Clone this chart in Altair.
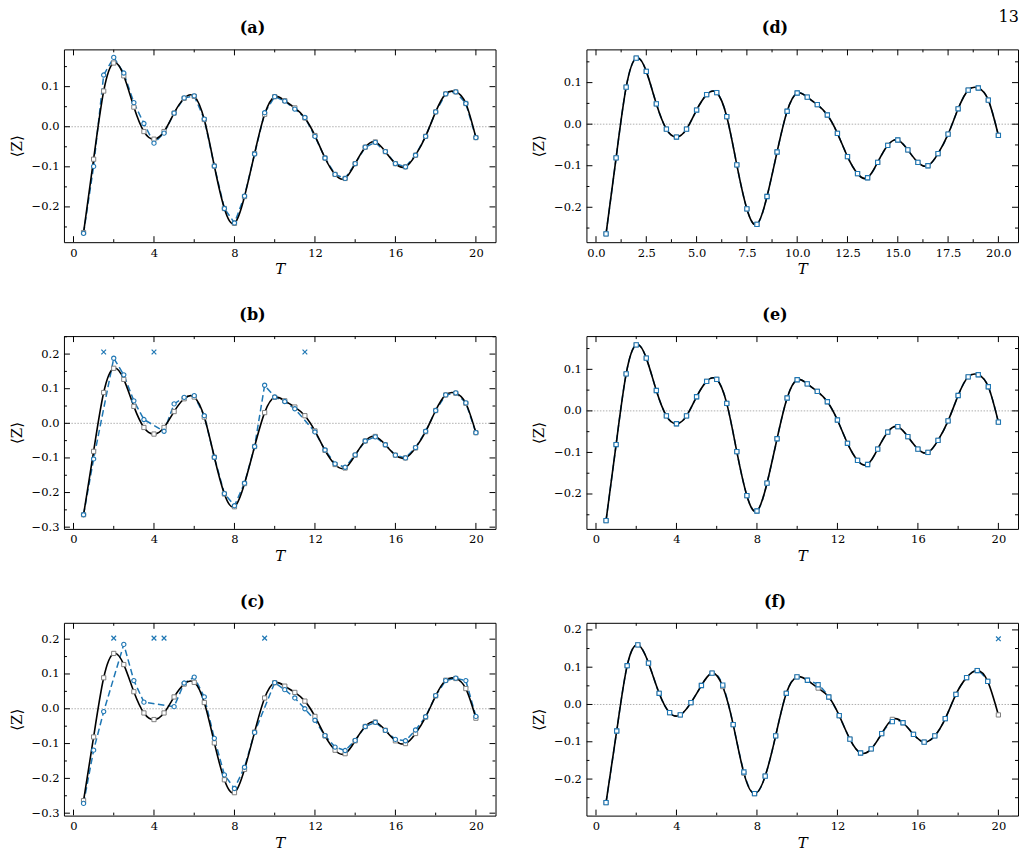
import altair as alt
import pandas as pd

# ---------------- data ----------------
T = [0.5, 1.0, 1.5, 2.0, 2.5, 3.0, 3.5, 4.0, 4.5, 5.0, 5.5, 6.0, 6.5, 7.0, 7.5, 8.0,
     8.5, 9.0, 9.5, 10.0, 10.5, 11.0, 11.5, 12.0, 12.5, 13.0, 13.5, 14.0, 14.5, 15.0,
     15.5, 16.0, 16.5, 17.0, 17.5, 18.0, 18.5, 19.0, 19.5, 20.0]

Z_EXACT = [-0.264, -0.081, 0.089, 0.159, 0.127, 0.049, -0.012, -0.031, -0.012, 0.034,
           0.071, 0.076, 0.018, -0.098, -0.204, -0.241, -0.174, -0.067, 0.031, 0.075,
           0.065, 0.047, 0.022, -0.022, -0.078, -0.119, -0.129, -0.092, -0.051, -0.038,
           -0.062, -0.092, -0.100, -0.071, -0.024, 0.037, 0.082, 0.087, 0.058, -0.027]

Z_A = [-0.266, -0.099, 0.129, 0.173, 0.134, 0.060, 0.008, -0.041, -0.016, 0.034,
       0.072, 0.077, 0.019, -0.098, -0.204, -0.240, -0.173, -0.068, 0.035, 0.075,
       0.064, 0.044, 0.023, -0.024, -0.078, -0.119, -0.129, -0.092, -0.051, -0.039,
       -0.062, -0.092, -0.100, -0.071, -0.024, 0.037, 0.082, 0.087, 0.058, -0.027]

Z_B = [-0.264, -0.103, None, 0.188, 0.140, 0.065, 0.011, None, -0.023, 0.056,
       0.075, 0.080, 0.022, -0.098, -0.203, -0.238, -0.173, -0.067, 0.110, 0.076,
       0.063, 0.042, None, -0.025, -0.077, -0.117, -0.127, -0.091, -0.051, -0.039,
       -0.062, -0.092, -0.100, -0.070, -0.023, 0.037, 0.082, 0.088, 0.059, -0.027]
OUT_B_T = [1.5, 4.0, 11.5]
OUT_B_Z = [0.206, 0.206, 0.206]

Z_C = [-0.272, -0.119, -0.008, None, 0.185, 0.081, 0.019, None, None, 0.006,
       0.074, 0.091, 0.034, -0.085, -0.190, -0.229, -0.168, -0.068, None, 0.075,
       0.055, 0.031, 0.000, -0.033, -0.077, -0.110, -0.120, -0.091, -0.051, -0.039,
       -0.062, -0.088, -0.092, -0.061, -0.023, 0.038, 0.081, 0.088, 0.081, -0.022]
OUT_C_T = [2.0, 4.0, 4.5, 9.5]
OUT_C_Z = [0.203, 0.203, 0.203, 0.203]

T_F = [0.50, 1.03, 1.55, 2.08, 2.61, 3.14, 3.66, 4.19, 4.72, 5.24, 5.77, 6.30, 6.82,
       7.35, 7.88, 8.41, 8.93, 9.46, 9.99, 10.51, 11.04, 11.57, 12.09, 12.62, 13.15,
       13.68, 14.20, 14.73, 15.26, 15.78, 16.31, 16.84, 17.36, 17.89, 18.42, 18.95,
       19.47, 20.00]
Z_F_EXACT = [-0.263, -0.071, 0.104, 0.160, 0.111, 0.030, -0.022, -0.028, 0.005, 0.051,
             0.084, 0.048, -0.054, -0.184, -0.239, -0.192, -0.084, 0.030, 0.074, 0.065,
             0.044, 0.020, -0.030, -0.093, -0.130, -0.119, -0.078, -0.040, -0.049, -0.080,
             -0.101, -0.084, -0.038, 0.027, 0.072, 0.091, 0.062, -0.028]
Z_F = [-0.263, -0.071, 0.104, 0.160, 0.111, 0.030, -0.022, -0.028, 0.005, 0.051,
       0.084, 0.052, -0.054, -0.181, -0.239, -0.192, -0.084, 0.030, 0.074, 0.065,
       0.053, 0.020, -0.030, -0.093, -0.130, -0.119, -0.078, -0.046, -0.049, -0.080,
       -0.101, -0.084, -0.038, 0.027, 0.072, 0.091, 0.062, None]
OUT_F_T = [20.0]
OUT_F_Z = [0.176]

# axis ticks / labels
X_MAJOR_4 = [0, 4, 8, 12, 16, 20]
X_MINOR_4 = [2, 6, 10, 14, 18]
X_MAJOR_25 = [0.0, 2.5, 5.0, 7.5, 10.0, 12.5, 15.0, 17.5, 20.0]
X_MINOR_25 = [1.25, 3.75, 6.25, 8.75, 11.25, 13.75, 16.25, 18.75]
Y_MAJOR = [-0.3, -0.2, -0.1, 0.0, 0.1, 0.2]
Y_MINOR = [-0.25, -0.15, -0.05, 0.05, 0.15, 0.25]
Y_LAB_2 = [-0.2, -0.1, 0.0, 0.1]
Y_LAB_3 = [-0.3, -0.2, -0.1, 0.0, 0.1, 0.2]
Y_LAB_F = [-0.2, -0.1, 0.0, 0.1, 0.2]
PAGE_NO = "13"

# ---------------- style ----------------
BLUE = "#1f77b4"
GRAY = "#7f7f7f"
FONT = "DejaVu Serif"
W, H = 432, 193
XDOM = [-0.475, 20.975]
MAJ, MIN = 6, 3
XSHAPE = "M-1,-1L1,1M-1,1L1,-1"


def panel(label, t_ex, z_ex, t_est, z_est, t_out, z_out, ydom, ylabels,
          xmajor, xminor, xfmt, blue_shape, blue_interp):
    xs = alt.Scale(domain=XDOM, nice=False, zero=False)
    ys = alt.Scale(domain=ydom, nice=False, zero=False)
    xaxis = alt.Axis(values=xmajor, format=xfmt, title="T", ticks=False, domain=False,
                     grid=False, labelPadding=5, titlePadding=3, titleFontStyle="italic",
                     labelFlush=False, labelOverlap=False)
    yaxis = alt.Axis(values=ylabels, format=".1f", title="⟨Z⟩", ticks=False, domain=False,
                     grid=False, labelPadding=5, titlePadding=7, labelFlush=False,
                     labelOverlap=False)
    X = alt.X("T:Q", scale=xs, axis=xaxis)
    Y = alt.Y("Z:Q", scale=ys, axis=yaxis)

    ex = pd.DataFrame({"T": t_ex, "Z": z_ex})
    est = pd.DataFrame({"T": t_est, "Z": z_est}).dropna()

    layers = []
    layers.append(alt.Chart(pd.DataFrame({"Z": [0.0]})).mark_rule(
        color="#9a9a9a", strokeWidth=0.8, strokeDash=[1.5, 1.5]).encode(y=Y))
    layers.append(alt.Chart(est).mark_line(
        color=BLUE, strokeWidth=1.5, strokeDash=[6.5, 3.5],
        interpolate=blue_interp).encode(x=X, y=Y))
    layers.append(alt.Chart(ex).mark_line(
        color="black", strokeWidth=1.6, interpolate="natural").encode(x=X, y=Y))
    layers.append(alt.Chart(ex).mark_point(
        shape="square", filled=True, fill="white", stroke=GRAY, strokeWidth=1,
        size=18, opacity=1).encode(x=X, y=Y))
    layers.append(alt.Chart(est).mark_point(
        shape=blue_shape, filled=True, fill="white", stroke=BLUE, strokeWidth=1.1,
        size=18, opacity=1).encode(x=X, y=Y))
    if t_out:
        out = pd.DataFrame({"T": t_out, "Z": z_out})
        layers.append(alt.Chart(out).mark_point(
            shape=XSHAPE, filled=False, color=BLUE, strokeWidth=1.2, size=22,
            opacity=1).encode(x=X, y=Y))

    # inward ticks on all four sides
    for vals, L in ((xmajor, MAJ), (xminor, MIN)):
        d = alt.Chart(pd.DataFrame({"T": vals})).mark_rule(
            color="black", strokeWidth=1, clip=True)
        layers.append(d.encode(x=X, y=alt.value(H), y2=alt.value(H - L)))
        layers.append(d.encode(x=X, y=alt.value(0), y2=alt.value(L)))
    for vals, L in ((Y_MAJOR, MAJ), (Y_MINOR, MIN)):
        d = alt.Chart(pd.DataFrame({"Z": vals})).mark_rule(
            color="black", strokeWidth=1, clip=True)
        layers.append(d.encode(y=Y, x=alt.value(0), x2=alt.value(L)))
        layers.append(d.encode(y=Y, x=alt.value(W), x2=alt.value(W - L)))

    return alt.layer(*layers).properties(
        width=W, height=H,
        title=alt.TitleParams(label, font=FONT, fontSize=16, fontWeight="bold",
                              anchor="middle", frame="bounds", offset=13, color="black"))


pa = panel("(a)", T, Z_EXACT, T, Z_A, [], [], [-0.288, 0.193], Y_LAB_2,
           X_MAJOR_4, X_MINOR_4, "d", "circle", "linear")
pb = panel("(b)", T, Z_EXACT, T, Z_B, OUT_B_T, OUT_B_Z, [-0.305, 0.252], Y_LAB_3,
           X_MAJOR_4, X_MINOR_4, "d", "circle", "linear")
pc = panel("(c)", T, Z_EXACT, T, Z_C, OUT_C_T, OUT_C_Z, [-0.307, 0.247], Y_LAB_3,
           X_MAJOR_4, X_MINOR_4, "d", "circle", "linear")
pd_ = panel("(d)", T, Z_EXACT, T, Z_EXACT, [], [], [-0.284, 0.180], Y_LAB_2,
            X_MAJOR_25, X_MINOR_25, ".1f", "square", "natural")
pe = panel("(e)", T, Z_EXACT, T, Z_EXACT, [], [], [-0.284, 0.180], Y_LAB_2,
           X_MAJOR_4, X_MINOR_4, "d", "square", "natural")
pf = panel("(f)", T_F, Z_F_EXACT, T_F, Z_F, OUT_F_T, OUT_F_Z, [-0.298, 0.219], Y_LAB_F,
           X_MAJOR_4, X_MINOR_4, "d", "square", "natural")

chart = alt.vconcat(
    alt.hconcat(pa, pd_, spacing=34),
    alt.hconcat(pb, pe, spacing=34),
    alt.hconcat(pc, pf, spacing=34),
    spacing=29,
).properties(
    padding={"left": 0, "top": 0, "right": 0, "bottom": 0},
    title=alt.TitleParams(PAGE_NO, font=FONT, fontSize=16, fontWeight="normal",
                          anchor="end", offset=-5, color="black"),
).configure_view(
    stroke="black", strokeWidth=1
).configure_axis(
    labelFont=FONT, titleFont=FONT, labelFontSize=11.5, titleFontSize=15,
    labelColor="black", titleColor="black", titleFontWeight="normal"
)

chart.save("out.html", embed_options={"renderer": "svg", "actions": False})
